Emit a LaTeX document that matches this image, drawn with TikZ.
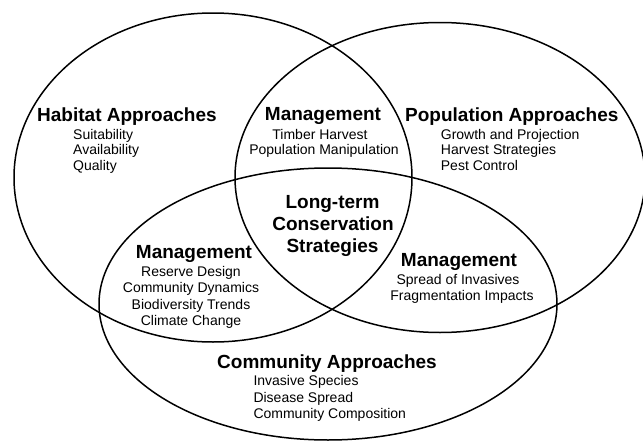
\documentclass[tikz,border=0pt]{standalone}
\usepackage{fontspec}
\setmainfont{Liberation Sans}
\begin{document}
\begin{tikzpicture}[x=1pt,y=-1pt,
  ring/.style={line width=1.5pt},
  head/.style={font=\fontsize{19}{22}\selectfont\bfseries, inner sep=0pt},
  item/.style={font=\fontsize{14}{16}\selectfont, inner sep=0pt}]
\useasboundingbox (0,0) rectangle (643,442);

% the three overlapping sets
\draw[ring] (213,177.5) ellipse [x radius=199pt, y radius=164.5pt];
\draw[ring] (440,177.5) ellipse [x radius=205pt, y radius=155pt];
\draw[ring] (328,304) ellipse [x radius=229pt, y radius=136pt];

% habitat set
\node[head, anchor=base west] (hab)  at (37,121) {Habitat Approaches};
\node[item, anchor=base west] (hab1) at (73,139) {Suitability};
\node[item, anchor=base west] (hab2) at (73,154.5) {Availability};
\node[item, anchor=base west] (hab3) at (73,170) {Quality};

% population set
\node[head, anchor=base west] (pop)  at (405,121) {Population Approaches};
\node[item, anchor=base west] (pop1) at (440.7,139) {Growth and Projection};
\node[item, anchor=base west] (pop2) at (440.7,154.5) {Harvest Strategies};
\node[item, anchor=base west] (pop3) at (440.7,170) {Pest Control};

% community set
\node[head, anchor=base] (com)  at (327,368.3) {Community Approaches};
\node[item, anchor=base west] (com1) at (253.3,385.7) {Invasive Species};
\node[item, anchor=base west] (com2) at (253.3,402) {Disease Spread};
\node[item, anchor=base west] (com3) at (253.3,418.4) {Community Composition};

% habitat / population overlap
\node[head, anchor=base] (mtop)  at (323,120.7) {Management};
\node[item, anchor=base] (mtop1) at (320,139) {Timber Harvest};
\node[item, anchor=base] (mtop2) at (324,154.3) {Population Manipulation};

% habitat / community overlap
\node[head, anchor=base] (mleft)  at (194,258.3) {Management};
\node[item, anchor=base] (mleft1) at (191,276.7) {Reserve Design};
\node[item, anchor=base] (mleft2) at (191,292.7) {Community Dynamics};
\node[item, anchor=base] (mleft3) at (191,309) {Biodiversity Trends};
\node[item, anchor=base] (mleft4) at (191,325.3) {Climate Change};

% population / community overlap
\node[head, anchor=base] (mright)  at (459,266) {Management};
\node[item, anchor=base] (mright1) at (458,284) {Spread of Invasives};
\node[item, anchor=base] (mright2) at (462,300) {Fragmentation Impacts};

% centre of all three
\node[head, anchor=base] (core1) at (332.5,208.5) {Long-term};
\node[head, anchor=base] (core2) at (333,230.2) {Conservation};
\node[head, anchor=base] (core3) at (332.5,252) {Strategies};
\end{tikzpicture}
\end{document}
